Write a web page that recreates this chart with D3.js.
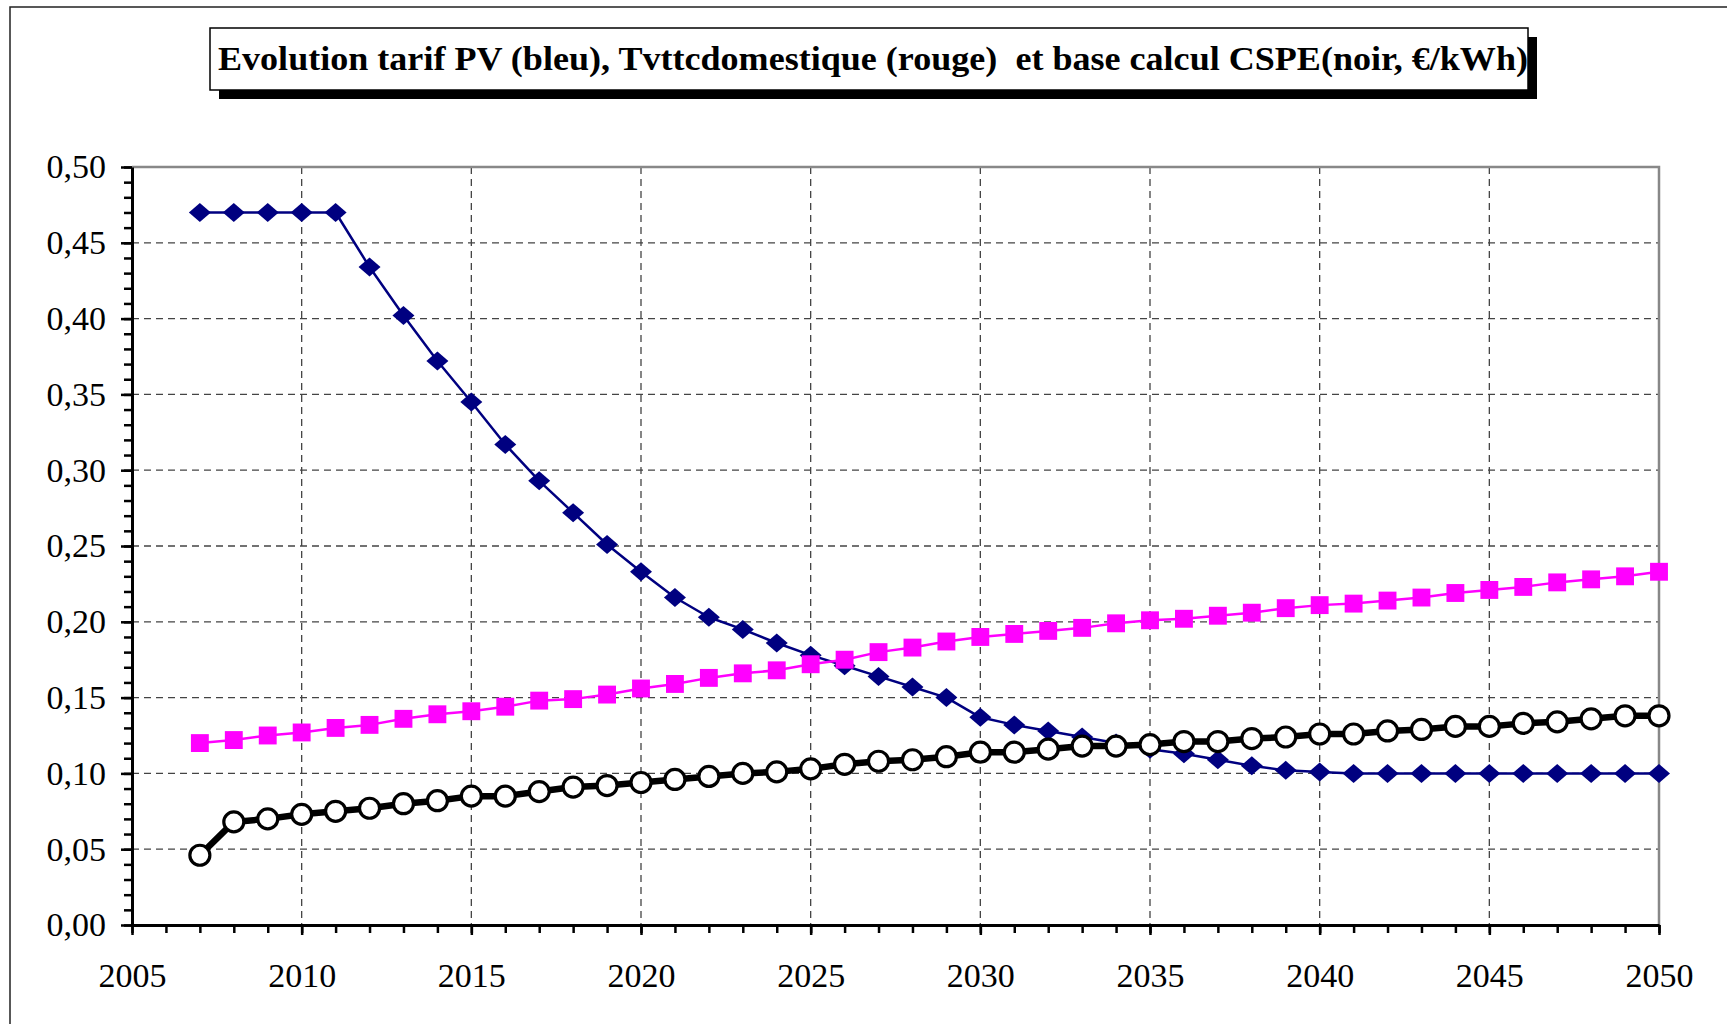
<!DOCTYPE html>
<html>
<head>
<meta charset="utf-8">
<title>Evolution tarif PV</title>
<script src="https://cdn.jsdelivr.net/npm/d3@7"></script>
<style>
    body { margin: 0; background: #fff; }
    #tarif-chart { width: 1727px; height: 1024px; }
    .grid line { stroke: #444; stroke-width: 1.3; stroke-dasharray: 7,5; }
    .axis path, .axis line { stroke: #000; }
    .axis text { font-family: "Times New Roman", Times, "Liberation Serif", Tinos, serif; font-size: 34px; fill: #000; }
</style>
</head>
<body>
<div id="tarif-chart"></div>
<script>
// years on the x axis
var years = [2007, 2008, 2009, 2010, 2011, 2012, 2013, 2014, 2015, 2016,
    2017, 2018, 2019, 2020, 2021, 2022, 2023, 2024, 2025, 2026,
    2027, 2028, 2029, 2030, 2031, 2032, 2033, 2034, 2035, 2036,
    2037, 2038, 2039, 2040, 2041, 2042, 2043, 2044, 2045, 2046,
    2047, 2048, 2049, 2050];

// tarif PV (bleu)
var tarifPV = [0.470, 0.470, 0.470, 0.470, 0.470, 0.434, 0.402, 0.372, 0.345, 0.317,
    0.293, 0.272, 0.251, 0.233, 0.216, 0.203, 0.195, 0.186, 0.178, 0.171,
    0.164, 0.157, 0.150, 0.137, 0.132, 0.128, 0.124, 0.120, 0.116, 0.113,
    0.109, 0.105, 0.102, 0.101, 0.100, 0.100, 0.100, 0.100, 0.100, 0.100,
    0.100, 0.100, 0.100, 0.100];

// Tvttc domestique (rouge)
var tvttcDomestique = [0.120, 0.122, 0.125, 0.127, 0.130, 0.132, 0.136, 0.139, 0.141, 0.144,
    0.148, 0.149, 0.152, 0.156, 0.159, 0.163, 0.166, 0.168, 0.172, 0.175,
    0.180, 0.183, 0.187, 0.190, 0.192, 0.194, 0.196, 0.199, 0.201, 0.202,
    0.204, 0.206, 0.209, 0.211, 0.212, 0.214, 0.216, 0.219, 0.221, 0.223,
    0.226, 0.228, 0.230, 0.233];

// base calcul CSPE (noir)
var baseCSPE = [0.046, 0.068, 0.070, 0.073, 0.075, 0.077, 0.080, 0.082, 0.085, 0.085,
    0.088, 0.091, 0.092, 0.094, 0.096, 0.098, 0.100, 0.101, 0.103, 0.106,
    0.108, 0.109, 0.111, 0.114, 0.114, 0.116, 0.118, 0.118, 0.119, 0.121,
    0.121, 0.123, 0.124, 0.126, 0.126, 0.128, 0.129, 0.131, 0.131, 0.133,
    0.134, 0.136, 0.138, 0.138];

var xTicks = [2005, 2010, 2015, 2020, 2025, 2030, 2035, 2040, 2045, 2050];
var yTicks = [0, 0.05, 0.10, 0.15, 0.20, 0.25, 0.30, 0.35, 0.40, 0.45, 0.50];
var chartTitle = "Evolution tarif PV (bleu), Tvttcdomestique (rouge)  et base calcul CSPE(noir, \u20ac/kWh)";

var width = 1727, height = 1024;
var plot = {left: 132, top: 167, right: 1659, bottom: 925};
var serif = "'Times New Roman', Times, 'Liberation Serif', Tinos, serif";

var svg = d3.select("#tarif-chart").append("svg")
    .attr("width", width)
    .attr("height", height);

svg.append("rect").attr("width", width).attr("height", height).attr("fill", "#fff");

// chart area border (only left and top are visible in the picture)
svg.append("path")
    .attr("d", "M10," + height + "V7H" + width)
    .attr("fill", "none")
    .attr("stroke", "#222")
    .attr("stroke-width", 1.5);

// title with shadow
var titleBox = {x: 210, y: 28, w: 1318, h: 62};
svg.append("rect")
    .attr("x", titleBox.x + 9).attr("y", titleBox.y + 9)
    .attr("width", titleBox.w).attr("height", titleBox.h)
    .attr("fill", "#000");
svg.append("rect")
    .attr("x", titleBox.x).attr("y", titleBox.y)
    .attr("width", titleBox.w).attr("height", titleBox.h)
    .attr("fill", "#fff")
    .attr("stroke", "#000")
    .attr("stroke-width", 1.5);
svg.append("text")
    .attr("x", 218)
    .attr("y", 70)
    .attr("textLength", 1310)
    .attr("lengthAdjust", "spacingAndGlyphs")
    .style("font-family", serif)
    .style("font-weight", "bold")
    .style("font-size", "33px")
    .style("white-space", "pre")
    .text(chartTitle);

var xScale = d3.scaleLinear().domain([2005, 2050]).range([plot.left, plot.right]);
var yScale = d3.scaleLinear().domain([0, 0.5]).range([plot.bottom, plot.top]);

var locale = d3.formatLocale({decimal: ",", thousands: " ", grouping: [3], currency: ["", "\u20ac"]});
var fmt = locale.format(".2f");

// dashed grid
svg.append("g").attr("class", "grid")
    .selectAll("line")
    .data(yTicks.filter(function (d) { return d > 0 && d < 0.5; }))
    .enter().append("line")
    .attr("x1", plot.left).attr("x2", plot.right)
    .attr("y1", function (d) { return yScale(d); })
    .attr("y2", function (d) { return yScale(d); });

svg.append("g").attr("class", "grid")
    .selectAll("line")
    .data(xTicks.filter(function (d) { return d > 2005 && d < 2050; }))
    .enter().append("line")
    .attr("y1", plot.top).attr("y2", plot.bottom)
    .attr("x1", function (d) { return xScale(d); })
    .attr("x2", function (d) { return xScale(d); });

// gray plot frame on top and right
svg.append("path")
    .attr("d", "M" + plot.left + "," + plot.top + "H" + plot.right + "V" + plot.bottom)
    .attr("fill", "none")
    .attr("stroke", "#888")
    .attr("stroke-width", 2.5);

// minor ticks
var minorY = d3.range(0, 51).map(function (i) { return i / 100; });
var minorX = d3.range(2005, 2051);

svg.append("g")
    .attr("class", "axis")
    .attr("transform", "translate(" + plot.left + ",0)")
    .call(d3.axisLeft(yScale).tickValues(minorY).tickSize(8).tickFormat(""))
    .call(function (g) { g.select(".domain").remove(); })
    .selectAll("line").attr("stroke-width", 2.5);

svg.append("g")
    .attr("class", "axis")
    .attr("transform", "translate(0," + plot.bottom + ")")
    .call(d3.axisBottom(xScale).tickValues(minorX).tickSize(8).tickFormat(""))
    .call(function (g) { g.select(".domain").remove(); })
    .selectAll("line").attr("stroke-width", 2.5);

// major ticks and labels
svg.append("g")
    .attr("class", "axis")
    .attr("transform", "translate(" + plot.left + ",0)")
    .call(d3.axisLeft(yScale).tickValues(yTicks).tickSize(11).tickSizeOuter(0).tickPadding(15).tickFormat(fmt))
    .call(function (g) {
        g.select(".domain").attr("stroke-width", 3);
        g.selectAll("line").attr("stroke-width", 2.5);
    });

svg.append("g")
    .attr("class", "axis")
    .attr("transform", "translate(0," + plot.bottom + ")")
    .call(d3.axisBottom(xScale).tickValues(xTicks).tickSize(10).tickSizeOuter(0).tickPadding(28).tickFormat(d3.format("d")))
    .call(function (g) {
        g.select(".domain").attr("stroke-width", 3);
        g.selectAll("line").attr("stroke-width", 2.5);
    });

// marker shapes as drawn by the spreadsheet
var diamond = {
    draw: function (context) {
        context.moveTo(-11, 0);
        context.lineTo(0, -9.5);
        context.lineTo(11, 0);
        context.lineTo(0, 9.5);
        context.closePath();
    }
};

// series
function seriesData(values) {
    return years.map(function (y, i) { return {year: y, value: values[i]}; });
}

var line = d3.line()
    .x(function (d) { return xScale(d.year); })
    .y(function (d) { return yScale(d.value); });

var series = [
    {name: "pv", values: tarifPV, color: "#000080", width: 2.5, symbol: "diamond"},
    {name: "tvttc", values: tvttcDomestique, color: "#ff00ff", width: 2.5, symbol: "square"},
    {name: "cspe", values: baseCSPE, color: "#000", width: 6.5, symbol: "circle"}
];

series.forEach(function (s) {
    var data = seriesData(s.values);
    var g = svg.append("g").attr("id", s.name);

    g.append("path")
        .datum(data)
        .attr("fill", "none")
        .attr("stroke", s.color)
        .attr("stroke-width", s.width)
        .attr("stroke-linejoin", "round")
        .attr("d", line);

    var marks = g.selectAll("path.mark")
        .data(data)
        .enter().append("path")
        .attr("class", "mark")
        .attr("transform", function (d) {
            return "translate(" + xScale(d.year) + "," + yScale(d.value) + ")";
        });

    if (s.symbol === "diamond") {
        marks.attr("d", d3.symbol(diamond)()).attr("fill", s.color);
    } else if (s.symbol === "square") {
        marks.attr("d", d3.symbol(d3.symbolSquare, 320)()).attr("fill", s.color);
    } else {
        marks.attr("d", d3.symbol(d3.symbolCircle, Math.PI * 10 * 10)())
            .attr("fill", "#fff")
            .attr("stroke", "#000")
            .attr("stroke-width", 3.2);
    }
});
</script>
</body>
</html>
